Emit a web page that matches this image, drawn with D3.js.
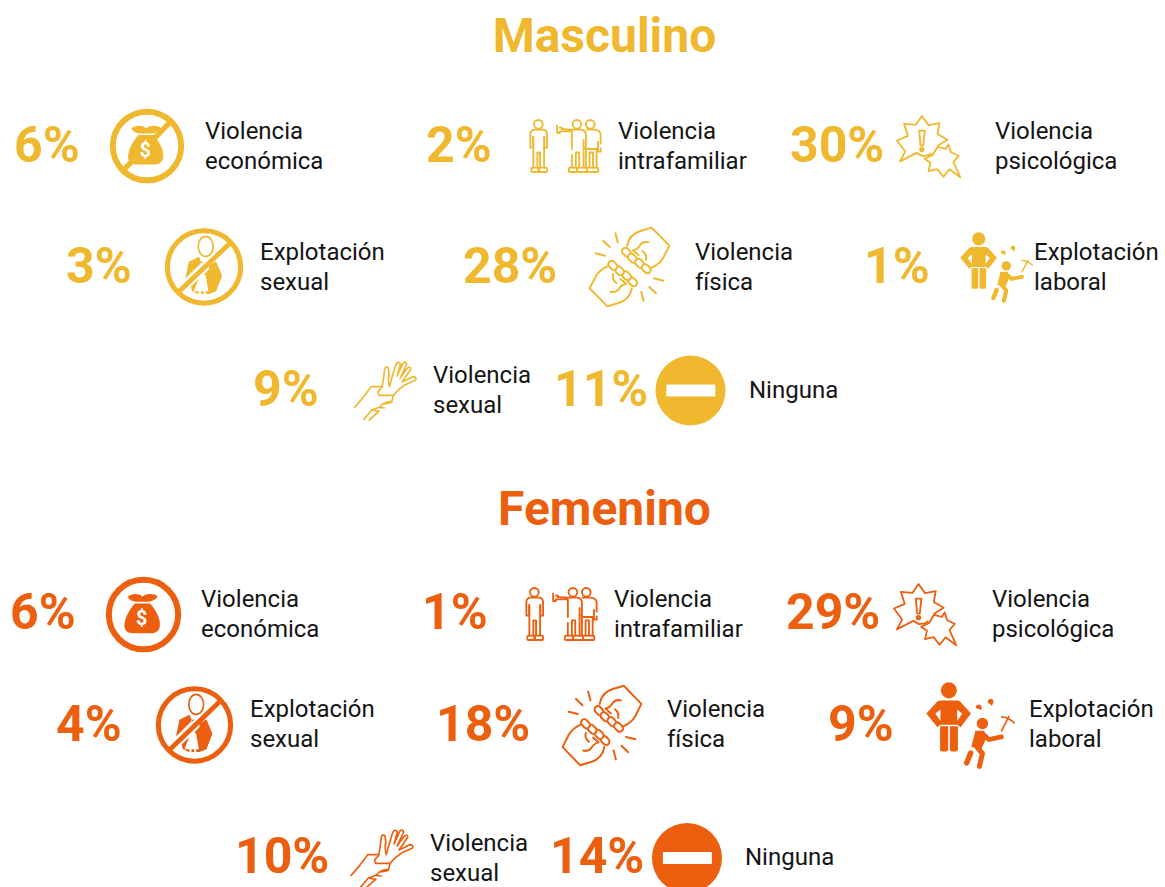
<!DOCTYPE html>
<html lang="es"><head><meta charset="utf-8">
<script src="https://cdn.jsdelivr.net/npm/d3@7/dist/d3.min.js"></script>
<style>html,body{margin:0;padding:0;background:#fff}svg{display:block}text{font-family:Roboto,sans-serif}</style>
</head><body><div id="chart"></div>
<script>
// ---------- data ----------
const groups = ["Masculino", "Femenino"];
const categories = ["Violencia económica","Violencia intrafamiliar","Violencia psicológica","Explotación sexual","Violencia física","Explotación laboral","Violencia sexual","Ninguna"];
const labelLines = [["Violencia","económica"],["Violencia","intrafamiliar"],["Violencia","psicológica"],["Explotación","sexual"],["Violencia","física"],["Explotación","laboral"],["Violencia","sexual"],["Ninguna"]];
const iconKinds = ["money","family","burst","prohibit","fists","labor","hand","none"];
const masculinoValues = [6,2,30,3,28,1,9,11];
const femeninoValues = [6,1,29,4,18,9,10,14];

// ---------- layout (pixels on the page) ----------
const W = 1165, H = 887;
const colors = ["#EFB82E", "#EC5F0E"];
const titlePos = [[604.5,52],[604.5,525]];
const pctX = [[14,426,790,66,463,864,253,554],[10,422,786,56,436,828,235,550]];
const pctY = [[162,162,162,283,283,283,406,406],[629,629,629,741,741,741,873,873]];
const labelX = [[205,618,995,260,695,1034,433,749],[201,614,992,250,667,1029,430,745]];
const labelY = [[139,139,139,260,260,260,383,398],[607,607,607,717,717,717,851,865]];
const iconBoxes = [
 [[110,109,184,183],[529,119,602,173],[896,115,961,178],[165,228,243,306],[589,227,670,307],[960,232,1033,303],[354,360,417,420],[655.5,355.5,725.5,425.5]],
 [[106,577,181,652],[525,587,598,641],[893,583,957,646],[156,686,233,764],[562,685,642,766],[926,682,1015,769],[350.5,828,414,888],[652,823,722,893]]
];

// icon artwork: each draws inside its own design box
const designBox = {money:[17,19,254,255],family:[20,22,238,184],burst:[22,12,218,205],prohibit:[20,17,250,250],fists:[18,16,260,256],labor:[15,12,280,272],hand:[16,18,207,198],none:[0,0,100,100]};
const art = {
 money(g,c,gi){
  g.append("line").attr("x1",52).attr("y1",222).attr("x2",218).attr("y2",52).attr("stroke",gi===0?c:"#fbdccb").attr("stroke-width",gi===0?17:1.5);
  g.append("circle").attr("cx",135.5).attr("cy",137).attr("r",109.5).attr("fill","none").attr("stroke",c).attr("stroke-width",19);
  g.append("path").attr("fill",c).attr("d","M108 102H156C175 122 190 150 187 174C185 189 175 196 160 196H102C85 196 75 188 75 172C75 148 92 120 108 102Z");
  g.append("path").attr("fill",c).attr("d","M85 82C98 70 118 70 132 80C148 70 168 70 181 80C172 90 162 96 152 97H112C102 96 92 92 85 82Z");
  g.append("text").attr("x",130).attr("y",171).attr("text-anchor","middle").attr("font-size",62).attr("font-weight",700).attr("fill","#fff").text("$");
 },
 family(g,c){
  const o=g.append("g").attr("fill","none").attr("stroke",c).attr("stroke-width",5.5).attr("stroke-linejoin","round").attr("stroke-linecap","round");
  [[48,38],[163,38],[203,38]].forEach(p=>o.append("circle").attr("cx",p[0]).attr("cy",p[1]).attr("r",13));
  o.append("path").attr("d","M24 108V68Q24 54 38 54H60Q74 54 74 68V108H66V76M24 108H32V76M33 76V112M65 76V112M33 112V168M65 112V168M45 168V122H53V168");
  o.append("path").attr("d","M30 168H46Q48 168 48 172V178Q48 181 46 181H30Q27 181 27 178V172Q27 168 30 168ZM52 168H71Q74 168 74 172V178Q74 181 71 181H52Q50 181 50 178V172Q50 168 52 168Z");
  o.append("path").attr("d","M104 42V64H112V59H148V112M148 130V168M112 48H118V52L145 54H176Q190 56 190 70V108H183V85M183 85V168M160 168V122H170V168");
  o.append("path").attr("d","M192 54H218Q234 56 234 70V96M234 110V120H226V90M226 100V112M190 112H226M190 112V168M222 112V168M201 168V122H211V168");
  o.append("path").attr("d","M142 168H160Q163 168 163 172V178Q163 181 160 181H142Q139 181 139 178V172Q139 168 142 168ZM166 168H190Q193 168 193 172V178Q193 181 190 181H166Q164 181 164 178V172Q164 168 166 168ZM195 168H224Q227 168 227 172V178Q227 181 224 181H195Q193 181 193 178V172Q193 168 195 168Z");
 },
 burst(g,c){
  const o=g.append("g").attr("fill","none").attr("stroke",c).attr("stroke-width",5.5).attr("stroke-linejoin","round").attr("stroke-linecap","round");
  o.append("path").attr("d","M34 154L50 124L25 90L58 76L46 39L82 42L100 15L120 43L153 37L147 70L177 88L148 106L150 110M128 130L118 136L102 138L84 128L34 154");
  o.append("path").attr("d","M147 110L172 116L180 102L188 126L211 137L195 156L216 203L183 178L165 201L146 178L120 184L126 158L108 146L133 134L147 110Z");
  o.append("path").attr("d","M92 60H109L104 106H96Z");
  g.append("circle").attr("cx",100).attr("cy",118).attr("r",8).attr("fill",c);
 },
 prohibit(g,c,gi){
  g.append("ellipse").attr("cx",140).attr("cy",72).attr("rx",22).attr("ry",30).attr("fill","none").attr("stroke",c).attr("stroke-width",5);
  g.append("path").attr("fill",c).attr("d","M120 103L90 118L80 168L128 118L146 118L170 116L188 160L170 206L150 214H118L100 205L96 190L140 150Z");
  g.append("path").attr("fill","#fff").attr("d","M128 148L140 160L148 206H140V216H134V206H126V216H120V206H105L118 172Z");
  g.append("path").attr("fill","none").attr("stroke","#fff").attr("stroke-width",27).attr("d","M60 208L212 62");
  g.append("path").attr("fill",c).attr("d","M118 106L92 120L82 165L126 122ZM150 130L170 116L188 160L170 206L148 213L150 160Z");
  g.append("path").attr("fill","none").attr("stroke",c).attr("stroke-width",14).attr("d","M56 212L216 58");
  g.append("circle").attr("cx",135).attr("cy",133.5).attr("r",108).attr("fill","none").attr("stroke",c).attr("stroke-width",15);
 },
 fists(g,c){
  const rays=[[60,57,80,76],[97,35,104,62],[38,95,66,102]];
  const drawFist=(f)=>{
   const o=f.append("g").attr("fill","none").attr("stroke",c).attr("stroke-width",6).attr("stroke-linejoin","round").attr("stroke-linecap","round");
   o.append("path").attr("d","M132 72Q138 38 172 28L205 18L258 72L240 108Q228 128 205 138");
   o.append("path").attr("d","M150 86Q165 82 172 68Q180 58 196 62");
   o.append("path").attr("d","M150 86Q156 92 166 100M178 88Q192 98 188 114");
   [[130,92],[148,110],[169,125],[189,141]].forEach(p=>o.append("rect").attr("x",p[0]-15).attr("y",p[1]-10).attr("width",30).attr("height",20).attr("rx",10).attr("transform",`rotate(45 ${p[0]} ${p[1]})`).attr("fill","#fff"));
   rays.forEach(r=>o.append("line").attr("x1",r[0]).attr("y1",r[1]).attr("x2",r[2]).attr("y2",r[3]));
  };
  drawFist(g.append("g"));
  drawFist(g.append("g").attr("transform","rotate(180 139 136)"));
 },
 labor(g,c){
  g.append("circle").attr("cx",83).attr("cy",37).attr("r",24).attr("fill",c);
  g.append("path").attr("fill",c).attr("d","M58 67H108Q113 67 117 71L149 106L118 147L103 135L123 107L108 94V140H58V94L43 107L63 135L49 147L16 106L48 71Q52 67 58 67Z");
  g.append("path").attr("fill",c).attr("d","M57 144H81V214Q81 220 75 220H63Q57 220 57 214ZM86 144H110V214Q110 220 104 220H92Q86 220 86 214Z");
  g.append("circle").attr("cx",183).attr("cy",136).attr("r",17).attr("fill",c);
  g.append("path").attr("fill",c).attr("d","M162 158H188L196 176L180 212L150 206Z");
  const l=g.append("g").attr("fill","none").attr("stroke",c).attr("stroke-linecap","round").attr("stroke-linejoin","round");
  l.append("path").attr("stroke-width",14).attr("d","M190 172L202 184L240 176");
  l.append("path").attr("stroke-width",16).attr("d","M148 224L136 254");
  l.append("path").attr("stroke-width",15).attr("d","M166 205L183 226L174 264");
  l.append("path").attr("stroke-width",5).attr("d","M240 158L262 115M240 116Q258 116 278 134");
  g.append("path").attr("fill",c).attr("d","M163 84Q170 76 179 82Q184 90 178 98Q176 90 168 92Q162 90 163 84Z");
  g.append("path").attr("fill",c).attr("d","M199 68Q205 58 214 64Q219 72 210 84Q208 76 202 76Q198 74 199 68Z");
 },
 hand(g,c){
  const o=g.append("g").attr("fill","none").attr("stroke",c).attr("stroke-width",5).attr("stroke-linejoin","round").attr("stroke-linecap","round");
  o.append("path").attr("d","M124 98Q118 80 122 60L120 42Q114 34 109 44L105 76L101 98H68L44 130L18 160");
  o.append("path").attr("d","M124 96Q128 84 130 74L142 34Q150 18 157 30L147 66L164 28Q172 20 176 30L156 72L178 42Q188 36 188 46L162 84L194 68Q206 68 203 78L168 94L150 108L135 124H92L88 114L101 100");
  o.append("path").attr("d","M135 124L130 145Q120 150 103 150L92 160L70 168L46 196M103 150Q115 142 130 142M92 160L108 162M70 168L92 172L62 198");
 },
 none(g,c){
  g.append("circle").attr("cx",50).attr("cy",50).attr("r",50).attr("fill",c);
  g.append("rect").attr("x",15.5).attr("y",41.5).attr("width",70).attr("height",17).attr("fill","#fff");
 }
};

const svg = d3.select("#chart").append("svg").attr("width",W).attr("height",H).attr("viewBox",`0 0 ${W} ${H}`);
const valuesByGroup = [masculinoValues, femeninoValues];

groups.forEach((name,gi)=>{
  const color = colors[gi];
  const root = svg.append("g").attr("class","group-"+name);
  root.append("text").attr("x",titlePos[gi][0]).attr("y",titlePos[gi][1]).attr("text-anchor","middle")
      .attr("font-size",48).attr("font-weight",700).attr("fill",color).text(name);

  const items = root.selectAll("g.item").data(categories.map((c,i)=>({c,i,v:valuesByGroup[gi][i]}))).join("g").attr("class","item");
  items.append("text").attr("x",d=>pctX[gi][d.i]).attr("y",d=>pctY[gi][d.i])
      .attr("font-size",50).attr("font-weight",700).attr("fill",color).text(d=>d.v+"%");
  items.append("g").each(function(d){
    const kind = iconKinds[d.i], db = designBox[kind], b = iconBoxes[gi][d.i];
    const sx = d3.scaleLinear().domain([db[0],db[2]]).range([b[0],b[2]]);
    const sy = d3.scaleLinear().domain([db[1],db[3]]).range([b[1],b[3]]);
    const k = [(sx(1)-sx(0)),(sy(1)-sy(0))];
    const g = d3.select(this).attr("transform",`translate(${sx(0)},${sy(0)}) scale(${k[0]},${k[1]})`);
    art[kind](g,color,gi);
  });
  items.each(function(d){
    const lines = labelLines[d.i];
    d3.select(this).selectAll("text.lab").data(lines).join("text").attr("class","lab")
      .attr("x",labelX[gi][d.i]).attr("y",(l,j)=>labelY[gi][d.i]+j*29.5)
      .attr("font-size",24).attr("fill","#141414").text(l=>l);
  });
});
</script></body></html>
